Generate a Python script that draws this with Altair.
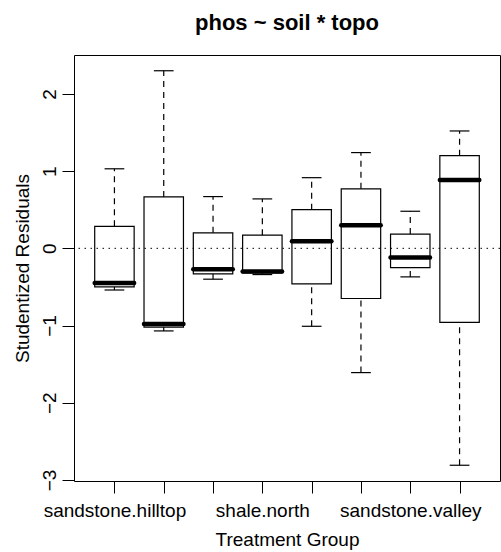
import altair as alt
import pandas as pd

groups = ["sandstone.hilltop", "shale.hilltop", "sandstone.north", "shale.north",
          "sandstone.south", "shale.south", "sandstone.valley", "shale.valley"]
lower = [-0.54, -1.07, -0.40, -0.34, -1.01, -1.61, -0.37, -2.81]
q1 = [-0.50, -1.02, -0.33, -0.32, -0.46, -0.65, -0.25, -0.96]
median = [-0.45, -0.98, -0.27, -0.30, 0.09, 0.30, -0.12, 0.885]
q3 = [0.285, 0.665, 0.20, 0.17, 0.50, 0.77, 0.185, 1.20]
upper = [1.03, 2.30, 0.67, 0.64, 0.915, 1.24, 0.48, 1.52]
shown_labels = ["sandstone.hilltop", "shale.north", "sandstone.valley"]
y_ticks = [-3, -2, -1, 0, 1, 2]
main_title = ["phos ~ soil * topo"]

df = pd.DataFrame({
    "group": groups,
    "pos": list(range(1, len(groups) + 1)),
    "lower": lower, "q1": q1, "median": median, "q3": q3, "upper": upper,
})
ref = pd.DataFrame({"ref": [0]})
title_df = pd.DataFrame({"title": main_title})

FONT = "Liberation Sans"
FS = 19

label_expr = " : ".join(
    f"datum.value == {i + 1} ? '{g}'" for i, g in enumerate(groups) if g in shown_labels
) + " : ''"

x_scale = alt.Scale(domain=[0.18, 8.82], nice=False, zero=False)
y_scale = alt.Scale(domain=[-3.014, 2.504], nice=False, zero=False)

x_axis = alt.Axis(
    values=list(range(1, len(groups) + 1)), labelExpr=label_expr, grid=False,
    domain=False, tickSize=12, tickColor="black", tickWidth=1,
    labelAngle=0, labelAlign="center", labelBaseline="alphabetic",
    labelPadding=23.7, labelFont=FONT, labelFontSize=FS, labelColor="black",
    labelOverlap=False, labelFlush=False,
    title="Treatment Group", titleFont=FONT, titleFontSize=FS,
    titleFontWeight="normal", titleColor="black", titleX=213, titleY=64,
    titleBaseline="alphabetic", titleAlign="center",
)
y_axis = alt.Axis(
    values=y_ticks, grid=False, domain=False, tickSize=12, tickColor="black",
    tickWidth=1, labelAngle=270, labelAlign="center", labelBaseline="alphabetic",
    labelPadding=7, labelFont=FONT, labelFontSize=FS, labelColor="black",
    labelOverlap=False, labelFlush=False,
    title="Studentized Residuals", titleFont=FONT, titleFontSize=FS,
    titleFontWeight="normal", titleColor="black", titleAngle=270,
    titleX=-45.5, titleY=213, titleBaseline="alphabetic", titleAlign="center",
)


def X(field):
    return alt.X(field, type="quantitative", scale=x_scale, axis=x_axis)


def Y(field):
    return alt.Y(field, type="quantitative", scale=y_scale, axis=y_axis)


base = alt.Chart(df).transform_calculate(
    xl="datum.pos - 0.4", xr="datum.pos + 0.4",
    cl="datum.pos - 0.2", cr="datum.pos + 0.2",
)

zero_line = alt.Chart(ref).mark_rule(
    color="black", strokeWidth=1, strokeDash=[1.5, 4.5]
).encode(y=Y("ref"))

whisk_hi = base.mark_rule(color="black", strokeWidth=1.2, strokeDash=[6, 5]).encode(
    x=X("pos"), y=Y("q3"), y2="upper")
whisk_lo = base.mark_rule(color="black", strokeWidth=1.2, strokeDash=[6, 5]).encode(
    x=X("pos"), y=Y("lower"), y2="q1")
cap_hi = base.mark_rule(color="black", strokeWidth=1.2).encode(
    x=X("cl"), x2="cr", y=Y("upper"))
cap_lo = base.mark_rule(color="black", strokeWidth=1.2).encode(
    x=X("cl"), x2="cr", y=Y("lower"))
boxes = base.mark_rect(fill="white", fillOpacity=0, stroke="black", strokeWidth=1.2).encode(
    x=X("xl"), x2="xr", y=Y("q1"), y2="q3")
medians = base.mark_rule(color="black", strokeWidth=4.5, strokeCap="round").encode(
    x=X("xl"), x2="xr", y=Y("median"))
title_mark = alt.Chart(title_df).mark_text(
    font=FONT, fontSize=22, fontWeight="bold", color="black",
    align="center", baseline="alphabetic",
).encode(text="title:N", x=alt.value(213), y=alt.value(-25))

chart = alt.layer(
    zero_line, whisk_hi, whisk_lo, cap_hi, cap_lo, boxes, medians, title_mark
).properties(
    width=426, height=426,
    autosize=alt.AutoSizeParams(type="none"),
    padding={"left": 74, "top": 55, "right": 1, "bottom": 71},
    background="white",
).configure_view(stroke="black", strokeWidth=1)

chart.save("out.html", embed_options={"renderer": "svg", "actions": False})
